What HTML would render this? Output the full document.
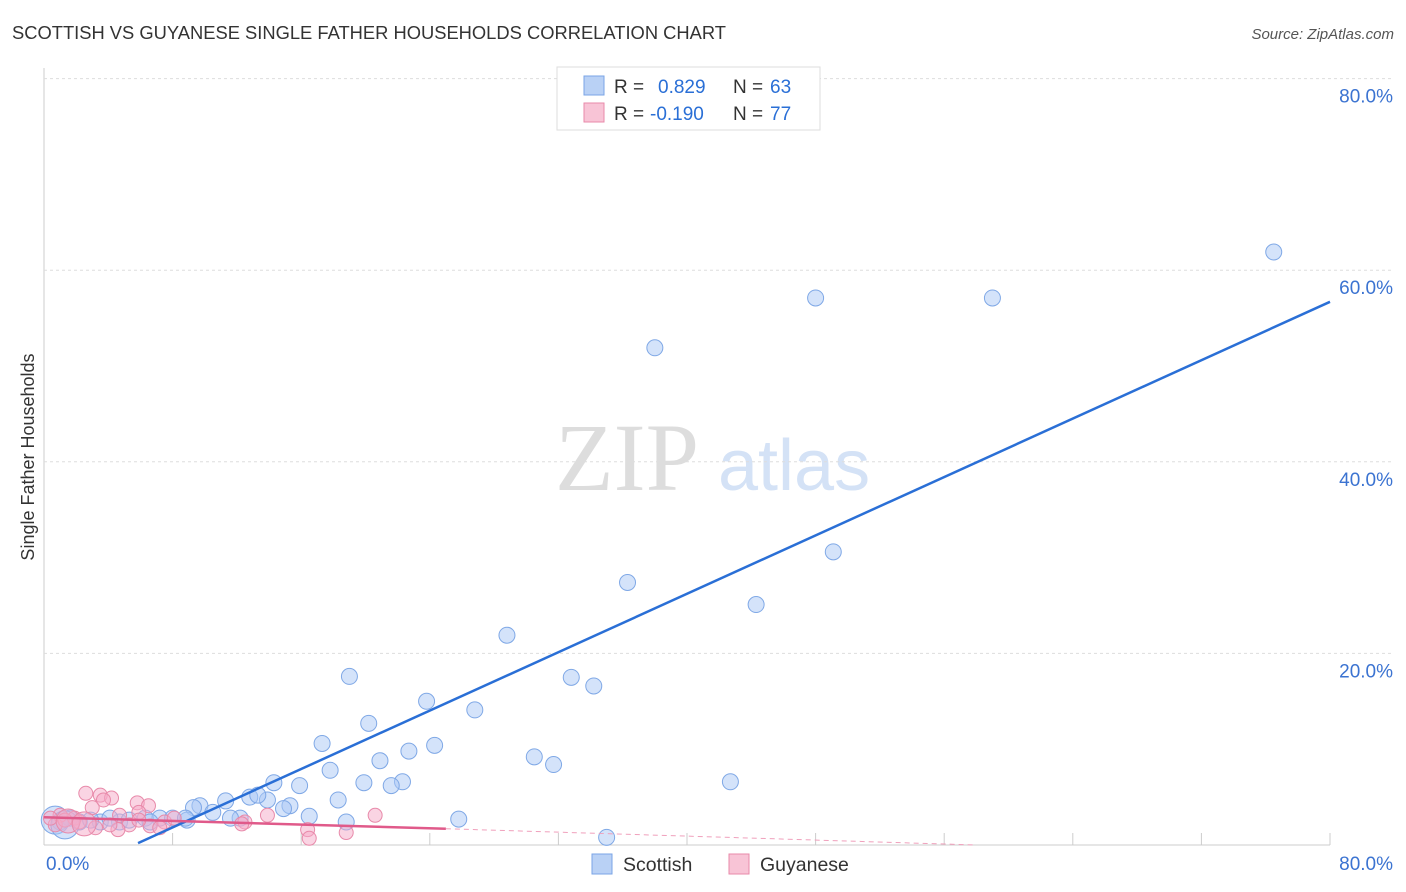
<!DOCTYPE html>
<html><head><meta charset="utf-8"><style>
body{margin:0;background:#fff;font-family:"Liberation Sans",sans-serif}
svg{display:block}
</style></head><body>
<svg id="c" width="1406" height="892">
<text x="12" y="39" font-size="18" fill="#333" textLength="714" lengthAdjust="spacingAndGlyphs">SCOTTISH VS GUYANESE SINGLE FATHER HOUSEHOLDS CORRELATION CHART</text>
<text x="1394" y="39" font-size="15" fill="#555" font-style="italic" text-anchor="end">Source: ZipAtlas.com</text>
<text x="34" y="457" font-size="18" fill="#333" text-anchor="middle" transform="rotate(-90 34 457)">Single Father Households</text>
<text x="555" y="490" font-size="96" fill="#ddd" font-family="Liberation Serif,serif">ZIP</text>
<text x="718" y="490" font-size="72" fill="#d4e2f6">atlas</text>
<g id="grid"></g><g id="pts"></g><g id="lines"></g>
<g>
<rect x="557" y="67" width="263" height="63" fill="#fff" stroke="#ddd"/>
<rect x="584" y="76" width="20" height="19" fill="#b9d1f5" stroke="#7aa4e6"/>
<text x="614" y="93" font-size="19" fill="#333">R =</text>
<text x="658" y="93" font-size="19" fill="#2a6fd6">0.829</text>
<text x="733" y="93" font-size="19" fill="#333">N =</text>
<text x="770" y="93" font-size="19" fill="#2a6fd6">63</text>
<rect x="584" y="103" width="20" height="19" fill="#f8c4d6" stroke="#e88aaa"/>
<text x="614" y="120" font-size="19" fill="#333">R =</text>
<text x="650" y="120" font-size="19" fill="#2a6fd6">-0.190</text>
<text x="733" y="120" font-size="19" fill="#333">N =</text>
<text x="770" y="120" font-size="19" fill="#2a6fd6">77</text>
</g>
<g>
<rect x="592" y="854" width="20" height="20" fill="#b9d1f5" stroke="#7aa4e6"/>
<text x="623" y="871" font-size="19.5" fill="#333">Scottish</text>
<rect x="729" y="854" width="20" height="20" fill="#f8c4d6" stroke="#e88aaa"/>
<text x="760" y="871" font-size="19.5" fill="#333">Guyanese</text>
</g>
</svg>
<script>
const yTicks=[20,40,60,80];
const blueX=[76.5,48.0,59.0,38.0,49.1,36.3,44.3,28.8,19.0,32.8,34.2,23.8,26.8,20.2,17.3,24.3,22.7,30.5,20.9,31.7,17.8,42.7,14.3,22.3,21.6,19.9,15.9,18.3,12.8,13.9,13.3,11.3,15.3,14.9,9.7,9.3,16.5,10.5,12.2,11.6,8.9,7.2,8.0,18.8,25.8,35.0,4.7,3.5,2.2,1.0,1.6,2.9,5.3,6.3,6.6,8.8,4.1,0.7,1.3];
const blueY=[61.9,57.1,57.1,51.9,30.6,27.4,25.1,21.9,17.6,17.5,16.6,15.0,14.1,12.7,10.6,10.4,9.8,9.2,8.8,8.4,7.8,6.6,6.5,6.6,6.2,6.5,6.2,4.7,5.0,4.7,5.2,4.6,4.1,3.8,4.1,3.9,3.0,3.4,2.8,2.8,2.6,2.8,2.8,2.4,2.7,0.8,2.4,2.4,2.4,2.4,2.8,2.6,2.6,2.8,2.4,2.8,2.8,2.6,2.1];
const pinkX=[2.6,3.5,4.2,3.7,5.8,6.5,5.9,3.0,1.0,1.9,4.7,5.3,4.6,6.6,7.5,8.1,3.2,12.5,13.9,16.4,16.5,18.8,20.6,0.7,1.3,2.2,0.4,4.1,5.9,7.2,12.3,1.5,2.5];
const pinkY=[5.4,5.2,4.9,4.7,4.4,4.1,3.4,3.9,3.1,2.8,3.1,2.1,1.6,2.0,2.4,2.8,1.8,2.4,3.1,1.6,0.7,1.3,3.1,2.1,2.6,2.4,2.8,2.1,2.6,1.8,2.2,2.5,2.2];
const blueLine=[[5.85,0.2],[80,56.7]];
const pinkLine=[[0,2.9],[25,1.7]];
const pinkDash=[[25,1.7],[58,0]];
const X=v=>44+v*16.075, Y=v=>845-v*9.58;
const NS='http://www.w3.org/2000/svg';
function mk(t,a,p){const e=document.createElementNS(NS,t);for(const k in a)e.setAttribute(k,a[k]);document.getElementById(p).appendChild(e);return e;}
mk('line',{x1:44,y1:68,x2:44,y2:845,stroke:'#ccc'},'grid');
mk('line',{x1:44,y1:845,x2:1330,y2:845,stroke:'#ccc'},'grid');
for(let i=1;i<=10;i++){const x=44+i*128.6;mk('line',{x1:x,y1:833,x2:x,y2:845,stroke:'#ccc'},'grid');}
yTicks.forEach(t=>{
const l=mk('line',{x1:44,y1:Y(t),x2:1394,y2:Y(t),stroke:'#ddd','stroke-dasharray':'3,3'},'grid');


const tx=mk('text',{x:1393,y:Y(t)+24,'font-size':19,fill:'#3b73d1','text-anchor':'end'},'grid');tx.textContent=t.toFixed(1)+'%';


});
let a=mk('text',{x:46,y:870,'font-size':19,fill:'#3b73d1'},'grid');a.textContent='0.0%';


a=mk('text',{x:1393,y:870,'font-size':19,fill:'#3b73d1','text-anchor':'end'},'grid');a.textContent='80.0%';


blueX.forEach((v,i)=>{const r=i>=blueX.length-2?14:8;const c=mk('circle',{cx:X(v),cy:Y(blueY[i]),r:r,fill:'rgba(170,200,245,0.5)',stroke:'#7fa8e6','stroke-width':1},'pts');

});
pinkX.forEach((v,i)=>{const r=i>=pinkX.length-2?12:7;const c=mk('circle',{cx:X(v),cy:Y(pinkY[i]),r:r,fill:'rgba(245,170,200,0.5)',stroke:'#e88aaa','stroke-width':1},'pts');

});
let L=mk('line',{x1:X(blueLine[0][0]),y1:Y(blueLine[0][1]),x2:X(blueLine[1][0]),y2:Y(blueLine[1][1]),stroke:'#2a6fd6','stroke-width':2.5},'lines');


L=mk('line',{x1:X(pinkLine[0][0]),y1:Y(pinkLine[0][1]),x2:X(pinkLine[1][0]),y2:Y(pinkLine[1][1]),stroke:'#e05a8a','stroke-width':2.5},'lines');


L=mk('line',{x1:X(pinkDash[0][0]),y1:Y(pinkDash[0][1]),x2:X(pinkDash[1][0]),y2:Y(pinkDash[1][1]),stroke:'#f0a0bc','stroke-width':1,'stroke-dasharray':'5,4'},'lines');


</script>
</body></html>
